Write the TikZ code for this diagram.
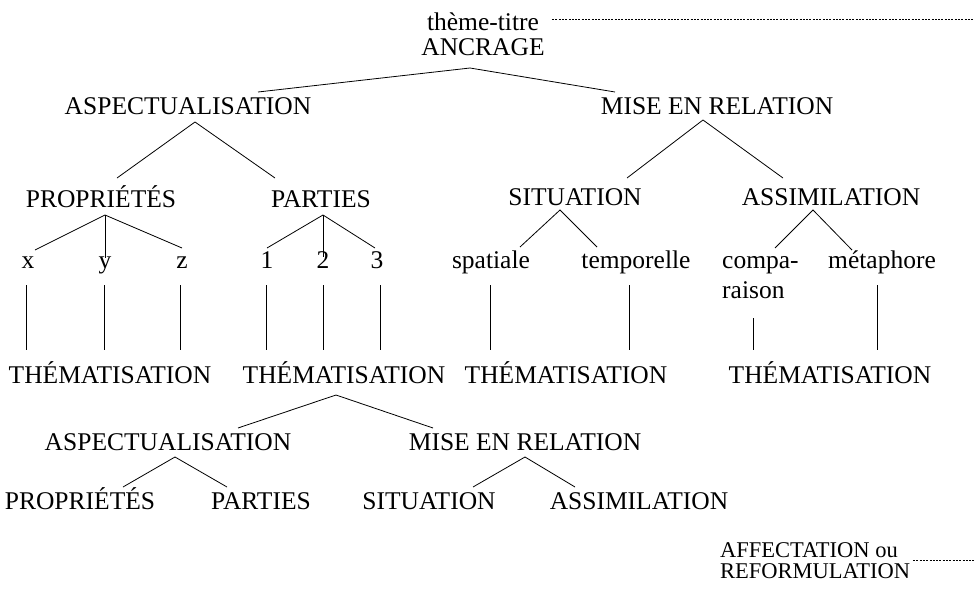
\documentclass[tikz,border=0pt]{standalone}
\usepackage{fontspec}
\setmainfont{Liberation Serif}
\begin{document}
\begin{tikzpicture}[x=1pt,y=-1pt,
  lbl/.style={font=\fontsize{25.5}{30}\selectfont, inner sep=0pt, anchor=base},
  lbll/.style={font=\fontsize{25.5}{30}\selectfont, inner sep=0pt, anchor=base west},
  lblsm/.style={font=\fontsize{22.5}{26}\selectfont, inner sep=0pt, anchor=base west},
  br/.style={line width=0.8pt},
  dotline/.style={line width=0.6pt, dash pattern=on 2pt off 1.3pt}]
\useasboundingbox (0,0) rectangle (974,589);
% nodes
\node[lbl] (tt) at (483,30) {thème-titre};
\node[lbl] (anc) at (483,55) {ANCRAGE};
\node[lbl] (asp) at (188,114) {ASPECTUALISATION};
\node[lbl] (mer) at (717,114) {MISE EN RELATION};
\node[lbl] (prop) at (101,207) {PROPRIÉTÉS};
\node[lbl] (part) at (321,207) {PARTIES};
\node[lbl] (sit) at (575,205) {SITUATION};
\node[lbl] (assim) at (831,205) {ASSIMILATION};
\node[lbl] (lx) at (28,268) {x};
\node[lbl] (ly) at (105,268) {y};
\node[lbl] (lz) at (182,268) {z};
\node[lbl] (l1) at (267,268) {1};
\node[lbl] (l2) at (323,268) {2};
\node[lbl] (l3) at (377,268) {3};
\node[lbl] (spat) at (491,268) {spatiale};
\node[lbl] (temp) at (636,268) {temporelle};
\node[lbll] (compa) at (722,268) {compa-};
\node[lbll] (raison) at (722,298) {raison};
\node[lbl] (meta) at (882,268) {métaphore};
\node[lbl] (th1) at (110,383) {THÉMATISATION};
\node[lbl] (th2) at (344,383) {THÉMATISATION};
\node[lbl] (th3) at (566,383) {THÉMATISATION};
\node[lbl] (th4) at (830,383) {THÉMATISATION};
\node[lbl] (asp2) at (168,450) {ASPECTUALISATION};
\node[lbl] (mer2) at (525,450) {MISE EN RELATION};
\node[lbl] (prop2) at (80,509) {PROPRIÉTÉS};
\node[lbl] (part2) at (261,509) {PARTIES};
\node[lbl] (sit2) at (429,509) {SITUATION};
\node[lbl] (assim2) at (639,509) {ASSIMILATION};
\node[lblsm] (aff) at (720,557) {AFFECTATION ou};
\node[lblsm] (ref) at (720,578) {REFORMULATION};
\coordinate (ttend) at (974,19);
\coordinate (affend) at (974,560);
% dotted lines
\draw[dotline] ([shift={(69,-11)}]tt.base) -- (ttend);
\draw[dotline] ([shift={(193,3)}]aff.base west) -- (affend);
% level 0 -> 1
\draw[br] ([shift={(70,-22)}]asp.base) -- ([shift={(-13,13)}]anc.base) -- ([shift={(-102,-22)}]mer.base);
% level 1 -> 2
\draw[br] ([shift={(16,-29)}]prop.base) -- ([shift={(7,8)}]asp.base) -- ([shift={(-46,-29)}]part.base);
\draw[br] ([shift={(52,-27)}]sit.base) -- ([shift={(-14,6)}]mer.base) -- ([shift={(-48,-27)}]assim.base);
% level 2 -> 3
\draw[br] ([shift={(7,-18)}]lx.base) -- ([shift={(4,8)}]prop.base) -- ([shift={(0,-20)}]lz.base);
\draw[br] ([shift={(4,8)}]prop.base) -- ([shift={(0,-10)}]ly.base);
\draw[br] ([shift={(0,-20)}]l1.base) -- ([shift={(2,8)}]part.base) -- ([shift={(-2,-20)}]l3.base);
\draw[br] ([shift={(2,8)}]part.base) -- ([shift={(0,-11)}]l2.base);
\draw[br] ([shift={(29,-21)}]spat.base) -- ([shift={(-15,5)}]sit.base) -- ([shift={(-39,-21)}]temp.base);
\draw[br] ([shift={(53,-20)}]compa.base west) -- ([shift={(-18,5)}]assim.base) -- ([shift={(-30,-18)}]meta.base);
% verticals
\draw[br] ([shift={(-2,17)}]lx.base) -- ([shift={(-84,-33)}]th1.base);
\draw[br] ([shift={(-1,17)}]ly.base) -- ([shift={(-6,-33)}]th1.base);
\draw[br] ([shift={(-2,17)}]lz.base) -- ([shift={(70,-33)}]th1.base);
\draw[br] ([shift={(-1,17)}]l1.base) -- ([shift={(-78,-33)}]th2.base);
\draw[br] ([shift={(0,17)}]l2.base) -- ([shift={(-21,-33)}]th2.base);
\draw[br] ([shift={(3,17)}]l3.base) -- ([shift={(36,-33)}]th2.base);
\draw[br] ([shift={(-1,17)}]spat.base) -- ([shift={(-76,-33)}]th3.base);
\draw[br] ([shift={(-7,17)}]temp.base) -- ([shift={(63,-33)}]th3.base);
\draw[br] ([shift={(31,20)}]raison.base west) -- ([shift={(-77,-33)}]th4.base);
\draw[br] ([shift={(-5,17)}]meta.base) -- ([shift={(47,-33)}]th4.base);
% lower tree
\draw[br] ([shift={(70,-22)}]asp2.base) -- ([shift={(-8,12)}]th2.base) -- ([shift={(-92,-22)}]mer2.base);
\draw[br] ([shift={(43,-22)}]prop2.base) -- ([shift={(7,7)}]asp2.base) -- ([shift={(-34,-22)}]part2.base);
\draw[br] ([shift={(44,-22)}]sit2.base) -- ([shift={(0,7)}]mer2.base) -- ([shift={(-64,-22)}]assim2.base);
\end{tikzpicture}
\end{document}
